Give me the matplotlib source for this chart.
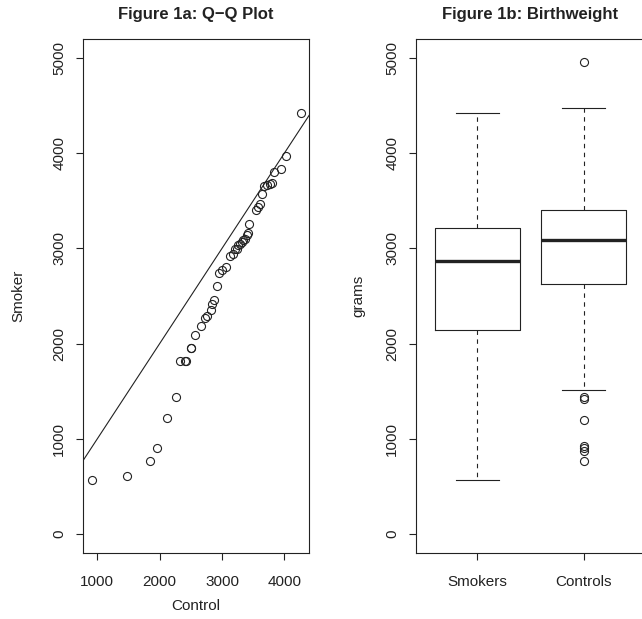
import matplotlib
matplotlib.use("Agg")
import matplotlib.pyplot as plt

plt.rcParams['font.family'] = ['Liberation Sans', 'DejaVu Sans']

# Q-Q pairs (Control quantile, Smoker quantile)
control_q = [910, 1482, 1846, 1958, 2114, 2258, 2322, 2410, 2430, 2500, 2510, 2568,
             2660, 2729, 2766, 2825, 2846, 2878, 2926, 2958, 3006, 3061, 3130, 3173,
             3210, 3240, 3263, 3290, 3327, 3345, 3371, 3398, 3414, 3440, 3547, 3584,
             3611, 3639, 3681, 3719, 3772, 3804, 3836, 3949, 4024, 4270]
smoker_q = [567, 609, 763, 906, 1217, 1441, 1812, 1812, 1812, 1955, 1955, 2095,
            2183, 2270, 2291, 2350, 2413, 2455, 2602, 2746, 2778, 2805, 2917, 2946,
            2998, 2998, 3032, 3050, 3067, 3085, 3103, 3137, 3166, 3255, 3400, 3435,
            3463, 3568, 3652, 3662, 3673, 3686, 3799, 3834, 3967, 4421]

# boxplot summaries
groups = ["Smokers", "Controls"]
whislo = [567, 1511]
q1 = [2141, 2631]
med = [2865, 3088]
q3 = [3214, 3407]
whishi = [4421, 4473]
fliers = [[], [4956, 1441, 1417, 1196, 927, 906, 874, 763]]

ink = "#222222"
W, H = 642, 619
fig = plt.figure(figsize=(W / 100, H / 100), dpi=100)

ax1 = fig.add_axes([83 / W, 1 - 553 / H, 226 / W, 514 / H])
ax2 = fig.add_axes([416 / W, 1 - 553 / H, 229 / W, 514 / H])

# left: Q-Q plot
ax1.plot(control_q, smoker_q, 'o', mfc='none', mec=ink, ms=5.8, mew=0.8)
ax1.axline((0, 0), slope=1, color=ink, lw=0.8)
ax1.set_xlim(770, 4396)
ax1.set_xticks([1000, 2000, 3000, 4000])
ax1.set_xlabel("Control", fontsize=11, color=ink)
ax1.xaxis.set_label_coords(0.5, (553 - 599) / 514)
ax1.set_ylabel("Smoker", fontsize=11, color=ink)
ax1.yaxis.set_label_coords((25 - 83) / 226, 0.5)
ax1.text(0.5, (553 - 14) / 514, "Figure 1a: Q\u2212Q Plot", transform=ax1.transAxes,
         ha='center', va='center', fontsize=12, fontweight='bold', color=ink)

# right: boxplot
stats = []
for i in range(len(groups)):
    stats.append(dict(label=groups[i], whislo=whislo[i], q1=q1[i], med=med[i],
                      q3=q3[i], whishi=whishi[i], fliers=fliers[i]))
ax2.bxp(stats, positions=[1, 2], widths=0.8, showfliers=True,
        boxprops=dict(color=ink, lw=0.8),
        medianprops=dict(color=ink, lw=2.4, solid_capstyle='butt'),
        whiskerprops=dict(color=ink, lw=0.8, linestyle=(0, (4, 4))),
        capprops=dict(color=ink, lw=0.8),
        capwidths=0.4,
        flierprops=dict(marker='o', mfc='none', mec=ink, ms=5.8, mew=0.8))
ax2.set_xlim(0.42, 2.58)
ax2.set_ylabel("grams", fontsize=11, color=ink)
ax2.yaxis.set_label_coords((365 - 416) / 229, 0.5)
ax2.text(0.5, (553 - 14) / 514, "Figure 1b: Birthweight", transform=ax2.transAxes,
         ha='center', va='center', fontsize=12, fontweight='bold', color=ink)

for ax in (ax1, ax2):
    ax.set_ylim(-200, 5200)
    ax.set_yticks([0, 1000, 2000, 3000, 4000, 5000])
    ax.tick_params(axis='both', direction='out', length=5, width=0.8, color=ink,
                   labelsize=11, labelcolor=ink)
    ax.tick_params(axis='x', pad=11)
    ax.tick_params(axis='y', pad=7)
    for lab in ax.get_yticklabels():
        lab.set_rotation(90)
        lab.set_va('center')
    for s in ax.spines.values():
        s.set_color(ink)
        s.set_linewidth(0.8)

fig.savefig("out.png", dpi=100)
